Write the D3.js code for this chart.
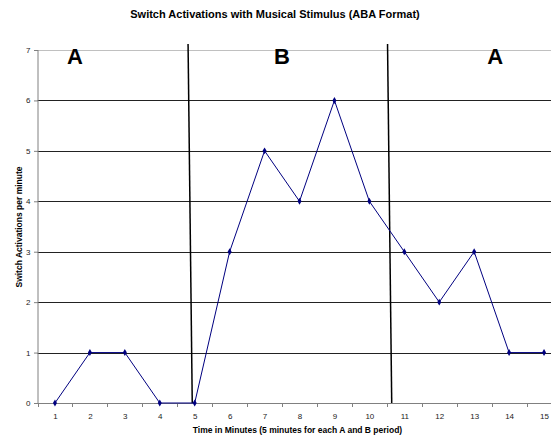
<!DOCTYPE html>
<html><head><meta charset="utf-8">
<script src="https://cdn.jsdelivr.net/npm/d3@7"></script>
<style>body{margin:0;background:#fff}svg{display:block;font-family:"Liberation Sans",Arial,sans-serif}</style>
</head><body><svg id="c" width="551" height="437"></svg>
<script>
const minutes = [1,2,3,4,5,6,7,8,9,10,11,12,13,14,15];
const activations = [0,1,1,0,0,3,5,4,6,4,3,2,3,1,1];
const yTicks = [0,1,2,3,4,5,6,7];
const phaseLabels = ["A","B","A"];
const phaseLabelX = [1.57,7.5,13.6];
// phase divider lines (hand drawn, slightly slanted): [x at top, x at bottom]
const phaseLines = [[4.81,4.93],[10.52,10.64]];

const title = "Switch Activations with Musical Stimulus (ABA Format)";
const xTitle = "Time in Minutes (5 minutes for each A and B period)";
const yTitle = "Switch Activations per minute";

const svg = d3.select("#c");
const L = 37.5, R = 561.5, T = 50, B = 403;
const x = d3.scaleLinear().domain([0.5,15.5]).range([L,R]);
const y = d3.scaleLinear().domain([0,7]).range([B,T]);

// gridlines
svg.append("g").selectAll("line").data(yTicks.filter(d=>d>0)).join("line")
  .attr("x1",L).attr("x2",551)
  .attr("y1",d=>Math.round(y(d))+0.5).attr("y2",d=>Math.round(y(d))+0.5)
  .attr("stroke",d=>d===7?"#c0c0c0":"#222").attr("stroke-width",1);

// y axis
const ya = svg.append("g").attr("transform",`translate(${L},0)`)
  .call(d3.axisLeft(y).tickValues(yTicks).tickSize(4).tickFormat(d3.format("d")));
ya.select(".domain").attr("stroke","#808080").attr("d",`M0.5,${T}V${B}`);
ya.selectAll(".tick line").attr("stroke","#808080").attr("transform","translate(0.5,0)");
ya.selectAll("text").attr("font-size",8).attr("fill","#222").attr("x",-7).attr("font-family","Liberation Sans, Arial");

// x axis
const xa = svg.append("g").attr("transform",`translate(0,${Math.round(B)+0.5})`)
  .call(d3.axisBottom(x).tickValues(minutes).tickSize(0).tickPadding(10).tickFormat(d3.format("d")));
xa.select(".domain").attr("stroke","#808080").attr("d",`M${L},0H551`);
xa.selectAll("text").attr("font-size",8).attr("fill","#222").attr("font-family","Liberation Sans, Arial");
// tick marks between categories
svg.append("g").selectAll("line").data(minutes.concat([0])).join("line")
  .attr("x1",d=>Math.round(x(d+0.5))+0.5).attr("x2",d=>Math.round(x(d+0.5))+0.5)
  .attr("y1",B).attr("y2",B+4).attr("stroke","#808080");

// phase lines
svg.append("g").selectAll("line").data(phaseLines).join("line")
  .attr("x1",d=>x(d[0])).attr("x2",d=>x(d[1]))
  .attr("y1",y(7.12)).attr("y2",B)
  .attr("stroke","#000").attr("stroke-width",1.5);

// phase labels
svg.append("g").selectAll("text").data(phaseLabels).join("text")
  .attr("x",(d,i)=>x(phaseLabelX[i])).attr("y",64)
  .attr("text-anchor","middle").attr("font-size",22).attr("font-weight","bold").text(d=>d);

// series
const line = d3.line().x((d,i)=>x(minutes[i])).y(d=>y(d));
svg.append("path").datum(activations).attr("d",line)
  .attr("fill","none").attr("stroke","#000080").attr("stroke-width",1);
svg.append("g").selectAll("path").data(activations).join("path")
  .attr("transform",(d,i)=>`translate(${x(minutes[i])},${y(d)})`)
  .attr("d",d3.symbol(d3.symbolDiamond,14)())
  .attr("fill","#000080");

// titles
svg.append("text").attr("x",275).attr("y",18).attr("text-anchor","middle")
  .attr("font-size",11).attr("font-weight","bold").text(title);
svg.append("text").attr("x",297.5).attr("y",433).attr("text-anchor","middle")
  .attr("font-size",8.5).attr("font-weight","bold").text(xTitle);
svg.append("text").attr("transform","translate(22,227) rotate(-90)").attr("text-anchor","middle")
  .attr("font-size",8.5).attr("font-weight","bold").text(yTitle);
</script></body></html>
